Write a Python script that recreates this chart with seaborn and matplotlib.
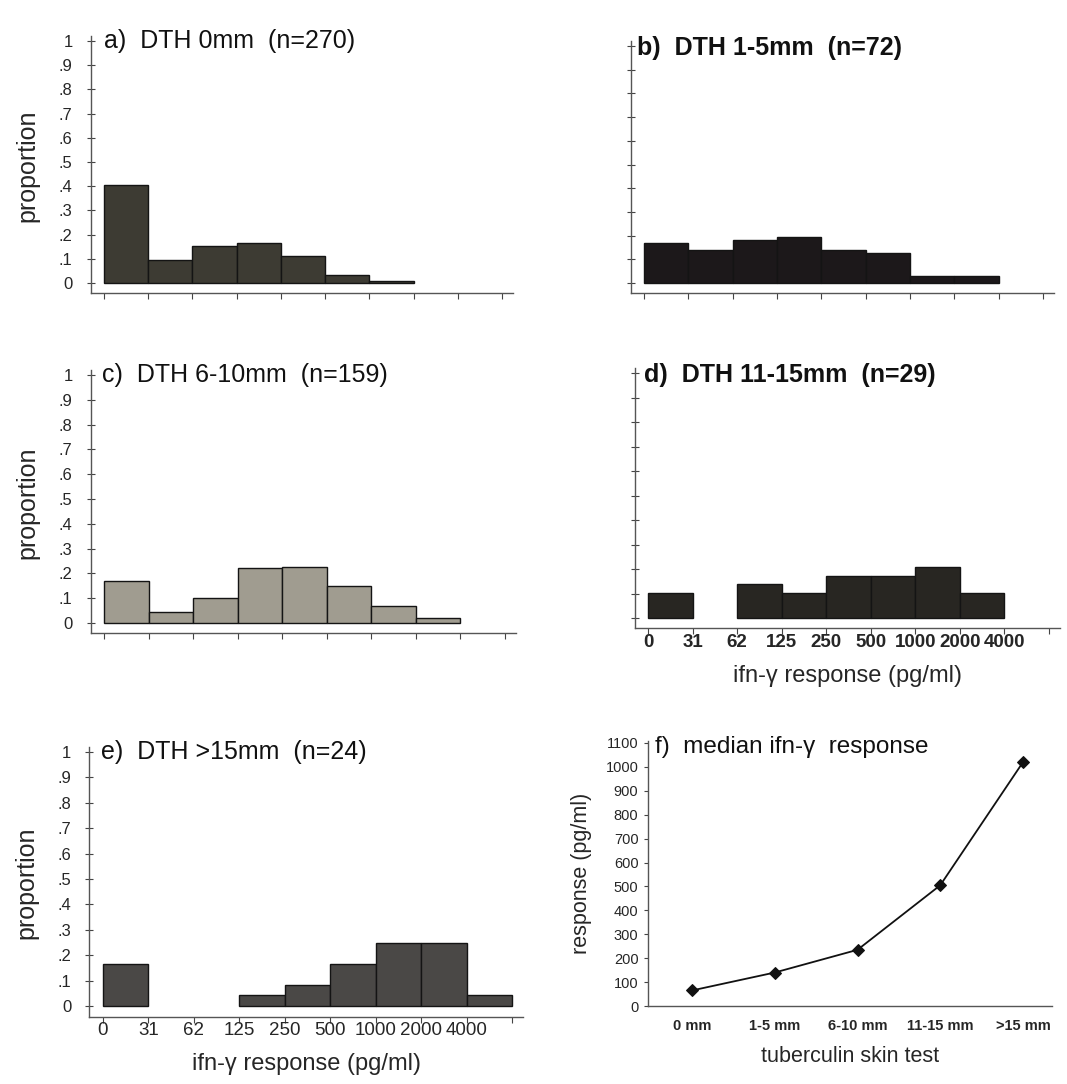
import numpy as np
import pandas as pd
import matplotlib
matplotlib.use("Agg")
import matplotlib.pyplot as plt
import seaborn as sns

sns.set_theme(style="white")
plt.rcParams['font.family'] = ['Liberation Sans', 'DejaVu Sans']

# ---------------- data ----------------
bin_labels = ["0", "31", "62", "125", "250", "500", "1000", "2000", "4000"]
prop_a = [0.407, 0.096, 0.152, 0.167, 0.111, 0.033, 0.007, 0.0, 0.0]
prop_b = [0.167, 0.139, 0.181, 0.194, 0.139, 0.125, 0.028, 0.028, 0.0]
prop_c = [0.170, 0.044, 0.101, 0.220, 0.226, 0.151, 0.069, 0.019, 0.0]
prop_d = [0.103, 0.0, 0.138, 0.103, 0.172, 0.172, 0.207, 0.103, 0.0]
prop_e = [0.167, 0.0, 0.0, 0.042, 0.083, 0.167, 0.250, 0.250, 0.042]

titles = ["a)  DTH 0mm  (n=270)", "b)  DTH 1-5mm  (n=72)", "c)  DTH 6-10mm  (n=159)",
          "d)  DTH 11-15mm  (n=29)", "e)  DTH >15mm  (n=24)"]
ytick_labels = ["0", ".1", ".2", ".3", ".4", ".5", ".6", ".7", ".8", ".9", "1"]

tst_groups = ["0 mm", "1-5 mm", "6-10 mm", "11-15 mm", ">15 mm"]
median_resp = [65, 140, 235, 505, 1020]

# ---------------- layout helpers ----------------
W, H = 1067, 1084
fig = plt.figure(figsize=(W / 100, H / 100), dpi=100)

YLO, YHI = -0.042, 1.01
XLO, XHI = -0.3, 9.25


def hist_axes(x0, x9, y0, y1):
    sp = (x9 - x0) / 9.0
    per = y0 - y1
    left = x0 + XLO * sp
    right = x0 + XHI * sp
    bottom = y0 - YLO * per
    top = y1 - (YHI - 1) * per
    return fig.add_axes([left / W, 1 - bottom / H, (right - left) / W, (bottom - top) / H])


panels = [
    dict(props=prop_a, title=titles[0], pos=(104, 502, 283, 41), color="#3d3b33",
         ylab=True, xlab=False, bold=False, tx=0.0, ty=1.0),
    dict(props=prop_b, title=titles[1], pos=(644, 1043, 283, 46), color="#1c181a",
         ylab=False, xlab=False, bold=True, tx=-0.15, ty=0.99),
    dict(props=prop_c, title=titles[2], pos=(104, 505, 623, 375), color="#a09c90",
         ylab=True, xlab=False, bold=False, tx=-0.05, ty=1.0),
    dict(props=prop_d, title=titles[3], pos=(648, 1049, 618, 373), color="#282622",
         ylab=False, xlab=True, bold=True, tx=-0.1, ty=0.99),
    dict(props=prop_e, title=titles[4], pos=(103, 512, 1006, 752), color="#4a4846",
         ylab=True, xlab=True, bold=False, tx=-0.05, ty=1.0),
]

for p in panels:
    ax = hist_axes(*p["pos"])
    df = pd.DataFrame({"bin": np.arange(len(p["props"])) + 0.5, "prop": p["props"]})
    sns.barplot(data=df, x="bin", y="prop", native_scale=True, width=1.0,
                color=p["color"], saturation=1.0, edgecolor="#141414", linewidth=1.0,
                errorbar=None, ax=ax)
    # empty bins show no mark at all
    for patch in ax.patches:
        if patch.get_height() <= 0:
            patch.set_visible(False)
    ax.set_xlim(XLO, XHI)
    ax.set_ylim(YLO, YHI)
    for s in ["top", "right"]:
        ax.spines[s].set_visible(False)
    for s in ["left", "bottom"]:
        ax.spines[s].set_color("#555555")
        ax.spines[s].set_linewidth(1.0)
    ax.spines["left"].set_bounds(YLO, 1.02)
    ax.set_yticks(np.linspace(0, 1, 11))
    ax.set_xticks(np.arange(0, 10))
    ax.tick_params(axis="x", direction="out", length=4, width=0.8, color="#444444",
                   pad=0, bottom=True)
    ax.tick_params(axis="y", direction="inout", length=6, width=0.8, color="#444444",
                   pad=10, left=True)
    if p["ylab"]:
        ax.set_yticklabels(ytick_labels, fontsize=12)
        ax.set_ylabel("proportion", fontsize=18, labelpad=14)
    else:
        ax.set_yticklabels([])
        ax.set_ylabel("")
    if p["xlab"]:
        ax.set_xticklabels(bin_labels + [""], fontsize=13.5,
                           fontweight="bold" if p["bold"] else "normal")
        ax.set_xlabel("ifn-γ response (pg/ml)", fontsize=17, labelpad=10)
    else:
        ax.set_xticklabels([])
        ax.set_xlabel("")
    ax.text(p["tx"], p["ty"], p["title"], ha="left", va="center", fontsize=18,
            fontweight="bold" if p["bold"] else "normal", color="#111111")
    ax.grid(False)

# ---------------- panel f ----------------
y0, y1100 = 1006, 743
c0, c4 = 692, 1023
sp = (c4 - c0) / 4.0
per = (y0 - y1100) / 1100.0
FXLO, FXHI = -0.53, 4.35
FYLO, FYHI = 0, 1110
left = c0 + FXLO * sp
right = c0 + FXHI * sp
bottom = y0 - FYLO * per
top = y0 - FYHI * per
axf = fig.add_axes([left / W, 1 - bottom / H, (right - left) / W, (bottom - top) / H])

dff = pd.DataFrame({"tst": tst_groups, "median": median_resp})
sns.lineplot(data=dff, x="tst", y="median", sort=False, color="#111111", linewidth=1.3,
             marker="D", markersize=6, markeredgecolor="#111111", ax=axf)
axf.set_xlim(FXLO, FXHI)
axf.set_ylim(FYLO, FYHI)
axf.set_yticks(np.arange(0, 1101, 100))
axf.set_yticklabels([str(v) for v in range(0, 1101, 100)], fontsize=10.5)
axf.set_xticks(range(len(tst_groups)))
axf.set_xticklabels(tst_groups, fontsize=10.5, fontweight="bold")
axf.tick_params(axis="x", length=0, pad=9)
axf.tick_params(axis="y", direction="out", length=3, width=0.8, color="#444444", pad=4,
                left=True)
for s in ["top", "right"]:
    axf.spines[s].set_visible(False)
for s in ["left", "bottom"]:
    axf.spines[s].set_color("#555555")
    axf.spines[s].set_linewidth(1.0)
axf.set_xlabel("tuberculin skin test", fontsize=15.5, labelpad=10)
axf.set_ylabel("response (pg/ml)", fontsize=15.5, labelpad=10)
axf.text(-0.45, 1085, "f)  median ifn-γ  response", ha="left", va="center",
         fontsize=17.5, color="#111111")
axf.grid(False)

fig.savefig("out.png", dpi=100, facecolor="white")
